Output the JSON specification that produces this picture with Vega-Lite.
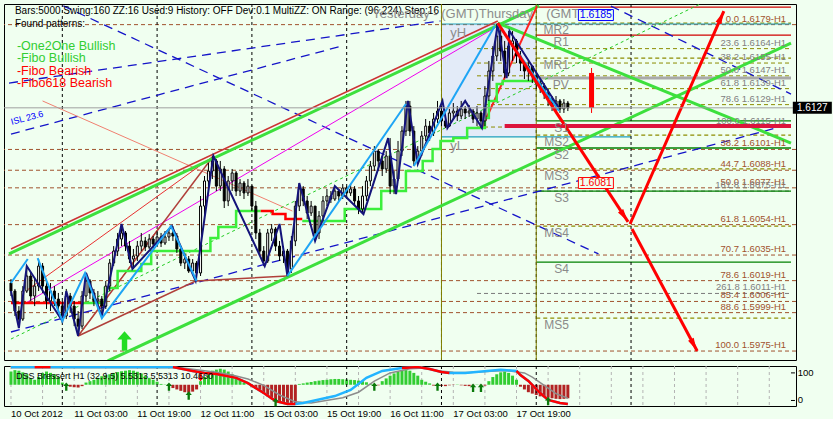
{
"$schema":"https://vega.github.io/schema/vega-lite/v6.json",
"background":"#f0fff0",
"padding":{"left":3,"top":3,"right":0,"bottom":0},
"spacing":4,
"config":{"view":{"stroke":"#000000","strokeWidth":1},"font":"Liberation Sans","axis":{"labelFont":"Liberation Sans","labelColor":"#000000","labelFontSize":9.5}},
"datasets":{
"candles":[
{"i":0,"o":1.60175,"h":1.60200,"l":1.60094,"c":1.60125},
{"i":1,"o":1.60125,"h":1.60138,"l":1.59969,"c":1.60000},
{"i":2,"o":1.60000,"h":1.60031,"l":1.59894,"c":1.59950},
{"i":3,"o":1.59950,"h":1.60156,"l":1.59938,"c":1.60125},
{"i":4,"o":1.60125,"h":1.60263,"l":1.60113,"c":1.60219},
{"i":5,"o":1.60219,"h":1.60238,"l":1.60063,"c":1.60094},
{"i":6,"o":1.60094,"h":1.60200,"l":1.60031,"c":1.60156},
{"i":7,"o":1.60156,"h":1.60325,"l":1.60125,"c":1.60281},
{"i":8,"o":1.60281,"h":1.60300,"l":1.60113,"c":1.60156},
{"i":9,"o":1.60156,"h":1.60188,"l":1.60013,"c":1.60063},
{"i":10,"o":1.60063,"h":1.60175,"l":1.60000,"c":1.60125},
{"i":11,"o":1.60125,"h":1.60156,"l":1.60031,"c":1.60075},
{"i":12,"o":1.60075,"h":1.60113,"l":1.59988,"c":1.60031},
{"i":13,"o":1.60031,"h":1.60063,"l":1.59925,"c":1.59969},
{"i":14,"o":1.59969,"h":1.60138,"l":1.59950,"c":1.60094},
{"i":15,"o":1.60094,"h":1.60113,"l":1.59988,"c":1.60031},
{"i":16,"o":1.60031,"h":1.60063,"l":1.59906,"c":1.59950},
{"i":17,"o":1.59950,"h":1.60000,"l":1.59844,"c":1.59906},
{"i":18,"o":1.59906,"h":1.60125,"l":1.59888,"c":1.60094},
{"i":19,"o":1.60094,"h":1.60238,"l":1.60063,"c":1.60188},
{"i":20,"o":1.60188,"h":1.60200,"l":1.60075,"c":1.60113},
{"i":21,"o":1.60113,"h":1.60138,"l":1.60031,"c":1.60063},
{"i":22,"o":1.60063,"h":1.60125,"l":1.60013,"c":1.60075},
{"i":23,"o":1.60075,"h":1.60094,"l":1.59969,"c":1.60031},
{"i":24,"o":1.60031,"h":1.60188,"l":1.60013,"c":1.60156},
{"i":25,"o":1.60156,"h":1.60325,"l":1.60125,"c":1.60300},
{"i":26,"o":1.60300,"h":1.60406,"l":1.60281,"c":1.60375},
{"i":27,"o":1.60375,"h":1.60488,"l":1.60344,"c":1.60450},
{"i":28,"o":1.60450,"h":1.60544,"l":1.60406,"c":1.60488},
{"i":29,"o":1.60488,"h":1.60500,"l":1.60375,"c":1.60406},
{"i":30,"o":1.60406,"h":1.60438,"l":1.60300,"c":1.60325},
{"i":31,"o":1.60325,"h":1.60388,"l":1.60263,"c":1.60344},
{"i":32,"o":1.60344,"h":1.60438,"l":1.60313,"c":1.60406},
{"i":33,"o":1.60406,"h":1.60488,"l":1.60375,"c":1.60438},
{"i":34,"o":1.60438,"h":1.60463,"l":1.60375,"c":1.60400},
{"i":35,"o":1.60400,"h":1.60481,"l":1.60388,"c":1.60450},
{"i":36,"o":1.60450,"h":1.60469,"l":1.60394,"c":1.60419},
{"i":37,"o":1.60419,"h":1.60500,"l":1.60406,"c":1.60463},
{"i":38,"o":1.60463,"h":1.60488,"l":1.60400,"c":1.60425},
{"i":39,"o":1.60425,"h":1.60500,"l":1.60413,"c":1.60463},
{"i":40,"o":1.60463,"h":1.60519,"l":1.60438,"c":1.60488},
{"i":41,"o":1.60488,"h":1.60531,"l":1.60438,"c":1.60469},
{"i":42,"o":1.60469,"h":1.60488,"l":1.60363,"c":1.60388},
{"i":43,"o":1.60388,"h":1.60406,"l":1.60281,"c":1.60300},
{"i":44,"o":1.60300,"h":1.60363,"l":1.60263,"c":1.60325},
{"i":45,"o":1.60325,"h":1.60344,"l":1.60238,"c":1.60250},
{"i":46,"o":1.60250,"h":1.60325,"l":1.60250,"c":1.60300},
{"i":47,"o":1.60300,"h":1.60313,"l":1.60188,"c":1.60238},
{"i":48,"o":1.60238,"h":1.60719,"l":1.60219,"c":1.60656},
{"i":49,"o":1.60656,"h":1.60844,"l":1.60594,"c":1.60813},
{"i":50,"o":1.60813,"h":1.60925,"l":1.60750,"c":1.60875},
{"i":51,"o":1.60875,"h":1.60969,"l":1.60825,"c":1.60938},
{"i":52,"o":1.60938,"h":1.60950,"l":1.60750,"c":1.60781},
{"i":53,"o":1.60781,"h":1.60938,"l":1.60750,"c":1.60888},
{"i":54,"o":1.60888,"h":1.60906,"l":1.60644,"c":1.60688},
{"i":55,"o":1.60688,"h":1.60844,"l":1.60656,"c":1.60813},
{"i":56,"o":1.60813,"h":1.60888,"l":1.60750,"c":1.60863},
{"i":57,"o":1.60863,"h":1.60875,"l":1.60719,"c":1.60750},
{"i":58,"o":1.60750,"h":1.60825,"l":1.60719,"c":1.60800},
{"i":59,"o":1.60800,"h":1.60813,"l":1.60700,"c":1.60738},
{"i":60,"o":1.60738,"h":1.60825,"l":1.60719,"c":1.60781},
{"i":61,"o":1.60781,"h":1.60781,"l":1.60625,"c":1.60656},
{"i":62,"o":1.60656,"h":1.60688,"l":1.60450,"c":1.60488},
{"i":63,"o":1.60488,"h":1.60513,"l":1.60344,"c":1.60375},
{"i":64,"o":1.60375,"h":1.60406,"l":1.60281,"c":1.60313},
{"i":65,"o":1.60313,"h":1.60513,"l":1.60300,"c":1.60488},
{"i":66,"o":1.60488,"h":1.60544,"l":1.60438,"c":1.60513},
{"i":67,"o":1.60513,"h":1.60525,"l":1.60375,"c":1.60406},
{"i":68,"o":1.60406,"h":1.60438,"l":1.60313,"c":1.60344},
{"i":69,"o":1.60344,"h":1.60406,"l":1.60300,"c":1.60375},
{"i":70,"o":1.60375,"h":1.60388,"l":1.60219,"c":1.60263},
{"i":71,"o":1.60263,"h":1.60469,"l":1.60238,"c":1.60438},
{"i":72,"o":1.60438,"h":1.60688,"l":1.60406,"c":1.60656},
{"i":73,"o":1.60656,"h":1.60800,"l":1.60625,"c":1.60763},
{"i":74,"o":1.60763,"h":1.60781,"l":1.60656,"c":1.60688},
{"i":75,"o":1.60688,"h":1.60719,"l":1.60575,"c":1.60613},
{"i":76,"o":1.60613,"h":1.60688,"l":1.60594,"c":1.60656},
{"i":77,"o":1.60656,"h":1.60656,"l":1.60438,"c":1.60488},
{"i":78,"o":1.60488,"h":1.60625,"l":1.60450,"c":1.60594},
{"i":79,"o":1.60594,"h":1.60719,"l":1.60563,"c":1.60688},
{"i":80,"o":1.60688,"h":1.60763,"l":1.60656,"c":1.60719},
{"i":81,"o":1.60719,"h":1.60750,"l":1.60675,"c":1.60700},
{"i":82,"o":1.60700,"h":1.60781,"l":1.60688,"c":1.60750},
{"i":83,"o":1.60750,"h":1.60763,"l":1.60688,"c":1.60719},
{"i":84,"o":1.60719,"h":1.60794,"l":1.60700,"c":1.60769},
{"i":85,"o":1.60769,"h":1.60781,"l":1.60706,"c":1.60738},
{"i":86,"o":1.60738,"h":1.60794,"l":1.60719,"c":1.60763},
{"i":87,"o":1.60763,"h":1.60781,"l":1.60656,"c":1.60688},
{"i":88,"o":1.60688,"h":1.60719,"l":1.60606,"c":1.60638},
{"i":89,"o":1.60638,"h":1.60781,"l":1.60613,"c":1.60719},
{"i":90,"o":1.60719,"h":1.60844,"l":1.60688,"c":1.60813},
{"i":91,"o":1.60813,"h":1.60938,"l":1.60781,"c":1.60906},
{"i":92,"o":1.60906,"h":1.61031,"l":1.60875,"c":1.61000},
{"i":93,"o":1.61000,"h":1.61013,"l":1.60875,"c":1.60938},
{"i":94,"o":1.60938,"h":1.60969,"l":1.60844,"c":1.60888},
{"i":95,"o":1.60888,"h":1.61000,"l":1.60863,"c":1.60969},
{"i":96,"o":1.60969,"h":1.61081,"l":1.60731,"c":1.60781},
{"i":97,"o":1.60781,"h":1.60875,"l":1.60731,"c":1.60825},
{"i":98,"o":1.60825,"h":1.61063,"l":1.60813,"c":1.61000},
{"i":99,"o":1.61000,"h":1.61156,"l":1.60969,"c":1.61125},
{"i":100,"o":1.61125,"h":1.61313,"l":1.61094,"c":1.61281},
{"i":101,"o":1.61281,"h":1.61313,"l":1.61094,"c":1.61125},
{"i":102,"o":1.61125,"h":1.61156,"l":1.60906,"c":1.60938},
{"i":103,"o":1.60938,"h":1.61031,"l":1.60919,"c":1.61000},
{"i":104,"o":1.61000,"h":1.61125,"l":1.60969,"c":1.61094},
{"i":105,"o":1.61094,"h":1.61200,"l":1.61063,"c":1.61156},
{"i":106,"o":1.61156,"h":1.61188,"l":1.61063,"c":1.61113},
{"i":107,"o":1.61113,"h":1.61238,"l":1.61094,"c":1.61200},
{"i":108,"o":1.61200,"h":1.61313,"l":1.61175,"c":1.61250},
{"i":109,"o":1.61250,"h":1.61281,"l":1.61156,"c":1.61188},
{"i":110,"o":1.61188,"h":1.61200,"l":1.61144,"c":1.61156},
{"i":111,"o":1.61156,"h":1.61263,"l":1.61150,"c":1.61238},
{"i":112,"o":1.61238,"h":1.61300,"l":1.61200,"c":1.61250},
{"i":113,"o":1.61250,"h":1.61281,"l":1.61188,"c":1.61219},
{"i":114,"o":1.61219,"h":1.61313,"l":1.61200,"c":1.61263},
{"i":115,"o":1.61263,"h":1.61281,"l":1.61200,"c":1.61238},
{"i":116,"o":1.61238,"h":1.61288,"l":1.61213,"c":1.61250},
{"i":117,"o":1.61250,"h":1.61263,"l":1.61175,"c":1.61200},
{"i":118,"o":1.61200,"h":1.61281,"l":1.61156,"c":1.61238},
{"i":119,"o":1.61238,"h":1.61250,"l":1.61144,"c":1.61188},
{"i":120,"o":1.61188,"h":1.61406,"l":1.61156,"c":1.61344},
{"i":121,"o":1.61344,"h":1.61563,"l":1.61313,"c":1.61500},
{"i":122,"o":1.61500,"h":1.61656,"l":1.61438,"c":1.61594},
{"i":123,"o":1.61594,"h":1.61794,"l":1.61563,"c":1.61719},
{"i":124,"o":1.61719,"h":1.61763,"l":1.61563,"c":1.61625},
{"i":125,"o":1.61625,"h":1.61688,"l":1.61456,"c":1.61488},
{"i":126,"o":1.61488,"h":1.61750,"l":1.61469,"c":1.61656},
{"i":127,"o":1.61656,"h":1.61750,"l":1.61563,"c":1.61688},
{"i":128,"o":1.61688,"h":1.61700,"l":1.61550,"c":1.61594},
{"i":129,"o":1.61594,"h":1.61625,"l":1.61500,"c":1.61550},
{"i":130,"o":1.61550,"h":1.61563,"l":1.61450,"c":1.61500},
{"i":131,"o":1.61500,"h":1.61563,"l":1.61438,"c":1.61531},
{"i":132,"o":1.61531,"h":1.61531,"l":1.61425,"c":1.61469},
{"i":133,"o":1.61469,"h":1.61488,"l":1.61388,"c":1.61425},
{"i":134,"o":1.61425,"h":1.61450,"l":1.61363,"c":1.61406},
{"i":135,"o":1.61406,"h":1.61425,"l":1.61325,"c":1.61363},
{"i":136,"o":1.61363,"h":1.61388,"l":1.61281,"c":1.61325},
{"i":137,"o":1.61325,"h":1.61344,"l":1.61250,"c":1.61281},
{"i":138,"o":1.61281,"h":1.61344,"l":1.61238,"c":1.61313},
{"i":139,"o":1.61313,"h":1.61325,"l":1.61238,"c":1.61263},
{"i":140,"o":1.61263,"h":1.61325,"l":1.61238,"c":1.61300},
{"i":141,"o":1.61300,"h":1.61313,"l":1.61250,"c":1.61269}
],
"osc":[
{"i":0,"v":105,"b":57},{"i":1,"v":110,"b":57},{"i":2,"v":108,"b":57},{"i":3,"v":102,"b":57},{"i":4,"v":95,"b":57},{"i":5,"v":80,"b":57},{"i":6,"v":75,"b":57},{"i":7,"v":85,"b":57},{"i":8,"v":100,"b":57},{"i":9,"v":105,"b":57},
{"i":10,"v":100,"b":57},{"i":11,"v":95,"b":57},{"i":12,"v":85,"b":57},{"i":13,"v":65,"b":57},{"i":14,"v":60,"b":57},{"i":15,"v":50,"b":57},{"i":16,"v":48,"b":57},{"i":17,"v":47,"b":57},{"i":18,"v":52,"b":57},{"i":19,"v":65,"b":57},
{"i":20,"v":70,"b":57},{"i":21,"v":75,"b":57},{"i":22,"v":82,"b":57},{"i":23,"v":88,"b":57},{"i":24,"v":92,"b":57},{"i":25,"v":95,"b":57},{"i":26,"v":100,"b":57},{"i":27,"v":103,"b":57},{"i":28,"v":106,"b":57},{"i":29,"v":108,"b":57},
{"i":30,"v":110,"b":57},{"i":31,"v":108,"b":57},{"i":32,"v":104,"b":57},{"i":33,"v":98,"b":57},{"i":34,"v":90,"b":57},{"i":35,"v":82,"b":57},{"i":36,"v":75,"b":57},{"i":37,"v":68,"b":57},{"i":38,"v":60,"b":57},{"i":39,"v":58,"b":57},
{"i":40,"v":56,"b":57},{"i":41,"v":45,"b":57},{"i":42,"v":40,"b":57},{"i":43,"v":35,"b":57},{"i":44,"v":30,"b":57},{"i":45,"v":28,"b":57},{"i":46,"v":32,"b":57},{"i":47,"v":40,"b":57},{"i":48,"v":70,"b":57},{"i":49,"v":85,"b":57},
{"i":50,"v":100,"b":57},{"i":51,"v":108,"b":57},{"i":52,"v":112,"b":57},{"i":53,"v":115,"b":57},{"i":54,"v":112,"b":57},{"i":55,"v":105,"b":57},{"i":56,"v":95,"b":57},{"i":57,"v":85,"b":57},{"i":58,"v":75,"b":57},{"i":59,"v":65,"b":57},
{"i":60,"v":58,"b":57},{"i":61,"v":48,"b":57},{"i":62,"v":42,"b":57},{"i":63,"v":35,"b":57},{"i":64,"v":25,"b":57},{"i":65,"v":15,"b":57},{"i":66,"v":5,"b":57},{"i":67,"v":0,"b":57},{"i":68,"v":-5,"b":57},{"i":69,"v":-10,"b":57},
{"i":70,"v":-12,"b":57},{"i":71,"v":-12,"b":57},{"i":72,"v":-10,"b":57},{"i":73,"v":60,"b":57},{"i":74,"v":62,"b":57},{"i":75,"v":65,"b":57},{"i":76,"v":67,"b":57},{"i":77,"v":70,"b":57},{"i":78,"v":72,"b":57},{"i":79,"v":74,"b":57},
{"i":80,"v":75,"b":57},{"i":81,"v":77,"b":57},{"i":82,"v":78,"b":57},{"i":83,"v":78,"b":57},{"i":84,"v":77,"b":57},{"i":85,"v":76,"b":57},{"i":86,"v":75,"b":57},{"i":87,"v":74,"b":57},{"i":88,"v":72,"b":57},{"i":89,"v":70,"b":57},
{"i":90,"v":66,"b":57},{"i":91,"v":60,"b":57},{"i":92,"v":52,"b":57},{"i":93,"v":55,"b":57},{"i":94,"v":70,"b":57},{"i":95,"v":80,"b":57},{"i":96,"v":90,"b":57},{"i":97,"v":98,"b":57},{"i":98,"v":104,"b":57},{"i":99,"v":108,"b":57},
{"i":100,"v":110,"b":57},{"i":101,"v":108,"b":57},{"i":102,"v":100,"b":57},{"i":103,"v":90,"b":57},{"i":104,"v":75,"b":57},{"i":105,"v":68,"b":57},{"i":106,"v":62,"b":57},{"i":107,"v":54,"b":57},{"i":108,"v":55,"b":57},{"i":109,"v":53,"b":57},
{"i":110,"v":52,"b":57},{"i":111,"v":55,"b":57},{"i":112,"v":56,"b":57},{"i":113,"v":58,"b":57},{"i":114,"v":55,"b":57},{"i":115,"v":53,"b":57},{"i":116,"v":52,"b":57},{"i":117,"v":56,"b":57},{"i":118,"v":58,"b":57},{"i":119,"v":55,"b":57},
{"i":120,"v":54,"b":57},{"i":121,"v":70,"b":57},{"i":122,"v":85,"b":57},{"i":123,"v":95,"b":57},{"i":124,"v":102,"b":57},{"i":125,"v":105,"b":57},{"i":126,"v":100,"b":57},{"i":127,"v":90,"b":57},{"i":128,"v":75,"b":57},{"i":129,"v":50,"b":57},
{"i":130,"v":40,"b":57},{"i":131,"v":30,"b":57},{"i":132,"v":25,"b":57},{"i":133,"v":20,"b":57},{"i":134,"v":15,"b":57},{"i":135,"v":12,"b":57},{"i":136,"v":10,"b":57},{"i":137,"v":8,"b":57},{"i":138,"v":6,"b":57},{"i":139,"v":5,"b":57},
{"i":140,"v":6,"b":57},{"i":141,"v":8,"b":57}
],
"oscl":[
{"line":"gray","i":0,"v":119},{"line":"gray","i":43,"v":119},{"line":"gray","i":48,"v":110},{"line":"gray","i":52,"v":102},{"line":"gray","i":56,"v":92},{"line":"gray","i":60,"v":78},{"line":"gray","i":64,"v":55},{"line":"gray","i":68,"v":20},{"line":"gray","i":72,"v":-5},{"line":"gray","i":76,"v":-9},{"line":"gray","i":84,"v":10},{"line":"gray","i":88,"v":30},{"line":"gray","i":92,"v":70},{"line":"gray","i":96,"v":100},{"line":"gray","i":101,"v":115},{"line":"gray","i":105,"v":118},{"line":"gray","i":108,"v":108},{"line":"gray","i":112,"v":102},{"line":"gray","i":116,"v":101},{"line":"gray","i":125,"v":109},{"line":"gray","i":130,"v":100},{"line":"gray","i":132,"v":85},{"line":"gray","i":135,"v":55},{"line":"gray","i":138,"v":25},{"line":"gray","i":141,"v":8},
{"line":"main","i":0,"v":121},{"line":"main","i":41,"v":121},{"line":"main","i":46,"v":107},{"line":"main","i":49,"v":100},{"line":"main","i":52,"v":96},{"line":"main","i":57,"v":82},{"line":"main","i":60,"v":63},{"line":"main","i":64,"v":27},{"line":"main","i":67,"v":-2},{"line":"main","i":70,"v":-13},{"line":"main","i":72,"v":-13},{"line":"main","i":74,"v":-9},{"line":"main","i":82,"v":16},{"line":"main","i":86,"v":38},{"line":"main","i":90,"v":82},{"line":"main","i":94,"v":107},{"line":"main","i":99,"v":118},{"line":"main","i":103,"v":121},{"line":"main","i":106,"v":114},{"line":"main","i":109,"v":103},{"line":"main","i":111,"v":100},{"line":"main","i":115,"v":100},{"line":"main","i":124,"v":111},{"line":"main","i":128,"v":107},{"line":"main","i":129,"v":92},{"line":"main","i":131,"v":71},{"line":"main","i":134,"v":27},{"line":"main","i":136,"v":2},{"line":"main","i":139,"v":-9},{"line":"main","i":141,"v":-13},
{"line":"r0","i":6,"v":121},{"line":"r0","i":10,"v":121},
{"line":"r1","i":41,"v":121},{"line":"r1","i":46,"v":107},{"line":"r1","i":49,"v":100},{"line":"r1","i":52,"v":96},{"line":"r1","i":57,"v":82},{"line":"r1","i":60,"v":63},{"line":"r1","i":64,"v":27},{"line":"r1","i":67,"v":-2},{"line":"r1","i":70,"v":-13},{"line":"r1","i":72,"v":-13},
{"line":"r2","i":99,"v":118},{"line":"r2","i":103,"v":121},{"line":"r2","i":106,"v":114},{"line":"r2","i":109,"v":103},{"line":"r2","i":111,"v":100},
{"line":"r3","i":128,"v":107},{"line":"r3","i":129,"v":92},{"line":"r3","i":131,"v":71},{"line":"r3","i":134,"v":27},{"line":"r3","i":136,"v":2},{"line":"r3","i":139,"v":-9},{"line":"r3","i":141,"v":-13}
],
"osca":[
{"i":14,"v":50,"dir":"up"},{"i":40,"v":50,"dir":"up"},{"i":45,"v":18,"dir":"up"},{"i":48,"v":85,"dir":"dn"},{"i":67,"v":-6,"dir":"up"},{"i":92,"v":50,"dir":"up"},{"i":108,"v":50,"dir":"up"},{"i":117,"v":46,"dir":"up"},{"i":119,"v":46,"dir":"up"},{"i":136,"v":-2,"dir":"up"}
],
"osct":[{"t":"DSS Bressert H1 (32,9,5) 5.5313 5.5313 10.4660","i":1.25,"v":90}],
"tgrid":[{"i":0},{"i":8},{"i":16},{"i":24},{"i":32},{"i":40},{"i":48},{"i":56},{"i":64},{"i":72},{"i":80},{"i":88},{"i":96},{"i":104},{"i":112},{"i":120},{"i":128},{"i":136},{"i":144},{"i":152},{"i":160},{"i":168},{"i":176},{"i":184},{"i":192}],
"xlab":[{"i":0,"t":"10 Oct 2012"},{"i":16,"t":"11 Oct 03:00"},{"i":32,"t":"11 Oct 19:00"},{"i":48,"t":"12 Oct 11:00"},{"i":64,"t":"15 Oct 03:00"},{"i":80,"t":"15 Oct 19:00"},{"i":96,"t":"16 Oct 11:00"},{"i":112,"t":"17 Oct 03:00"},{"i":128,"t":"17 Oct 19:00"}],
"ylab":[{"v":0,"t":"0"},{"v":100,"t":"100"}],
"seps":[{"i":13},{"i":37},{"i":61},{"i":85},{"i":109},{"i":133},{"i":157}],
"ybox":[{"from":109,"to":133,"hi":1.61794,"lo":1.61088}],
"lvl":[{"from":125,"p":1.61156}],
"sig":[{"i":147,"hi":1.61519,"lo":1.61238,"bt":1.61488,"bb":1.61269}],
"bull":[{"i":28.75,"p":1.59813}],
"piv":[
{"t":"","p":1.619,"kind":"R"},{"t":"MR2","p":1.618,"kind":"M"},{"t":"R1","p":1.61725,"kind":"R"},{"t":"MR1","p":1.61581,"kind":"M"},{"t":"PV","p":1.61456,"kind":"P"},{"t":"S1","p":1.61188,"kind":"S"},{"t":"MS2","p":1.611,"kind":"M"},{"t":"S2","p":1.61019,"kind":"S"},{"t":"MS3","p":1.60888,"kind":"M"},{"t":"S3","p":1.6075,"kind":"S"},{"t":"MS4","p":1.60531,"kind":"M"},{"t":"S4","p":1.60306,"kind":"S"},{"t":"MS5","p":1.59956,"kind":"M"}
],
"fib":[
{"t":"0.0 1.6179-H1","p":1.6179,"set":"full"},
{"t":"23.6 1.6164-H1","p":1.6164,"set":"hi"},
{"t":"38.2 1.6155-H1","p":1.6155,"set":"hi"},
{"t":"50.0 1.6147-H1","p":1.6147,"set":"hi"},
{"t":"61.8 1.6139-H1","p":1.6139,"set":"hi"},
{"t":"78.6 1.6129-H1","p":1.6129,"set":"hi"},
{"t":"100.0 1.6115-H1","p":1.6115,"set":"hi"},
{"t":"38.2 1.6101-H1","p":1.6101,"set":"full"},
{"t":"44.7 1.6088-H1","p":1.6088,"set":"full"},
{"t":"50.0 1.6077-H1","p":1.6077,"set":"full"},
{"t":"161.8 1.6075-H1","p":1.6075,"set":"ext"},
{"t":"61.8 1.6054-H1","p":1.6054,"set":"full"},
{"t":"70.7 1.6035-H1","p":1.6035,"set":"full"},
{"t":"78.6 1.6019-H1","p":1.6019,"set":"full"},
{"t":"261.8 1.6011-H1","p":1.6011,"set":"ext"},
{"t":"85.4 1.6006-H1","p":1.6006,"set":"full"},
{"t":"88.6 1.5999-H1","p":1.5999,"set":"full"},
{"t":"100.0 1.5975-H1","p":1.5975,"set":"full"}
],
"lines":[
{"line":"ch1","kind":"channel","i":-0.5,"p":1.60357},{"line":"ch1","kind":"channel","i":133.75,"p":1.61907},
{"line":"ch2","kind":"channel","i":24.5,"p":1.59688},{"line":"ch2","kind":"channel","i":197.5,"p":1.61675},
{"line":"ch3","kind":"channel","i":123.25,"p":1.618},{"line":"ch3","kind":"channel","i":197.5,"p":1.6105},
{"line":"chr","kind":"channelRed","i":0,"p":1.60388},{"line":"chr","kind":"channelRed","i":123.25,"p":1.61813},
{"line":"mag","kind":"magenta","i":3.75,"p":1.6005},{"line":"mag","kind":"magenta","i":123.25,"p":1.61781},
{"line":"pt1","kind":"pattern","i":3.75,"p":1.60125},{"line":"pt1","kind":"pattern","i":51.25,"p":1.60969},
{"line":"pt3","kind":"pattern","i":17,"p":1.59844},{"line":"pt3","kind":"pattern","i":38.75,"p":1.60563},
{"line":"pt2","kind":"patternBrown","i":17,"p":1.59844},{"line":"pt2","kind":"patternBrown","i":51.25,"p":1.60969},
{"line":"brn","kind":"patternBrown","i":17,"p":1.59844},{"line":"brn","kind":"patternBrown","i":46.75,"p":1.60188},{"line":"brn","kind":"patternBrown","i":70,"p":1.60219},
{"line":"rl1","kind":"redline","i":119.25,"p":1.61144},{"line":"rl1","kind":"redline","i":133.2,"p":1.61906},
{"line":"fan1","kind":"fan","i":13.25,"p":1.61907},{"line":"fan1","kind":"fan","i":148.75,"p":1.60357},
{"line":"fan2","kind":"fan","i":0,"p":1.59869},{"line":"fan2","kind":"fan","i":197.5,"p":1.61169},
{"line":"fan3","kind":"fan","i":-0.5,"p":1.61425},{"line":"fan3","kind":"fan","i":108.75,"p":1.61813},
{"line":"fan4","kind":"fan","i":0,"p":1.61106},{"line":"fan4","kind":"fan","i":83.75,"p":1.61656},
{"line":"fan5","kind":"fan","i":151.9,"p":1.61906},{"line":"fan5","kind":"fan","i":197.5,"p":1.61356},
{"line":"sal","kind":"salmon","i":8,"p":1.61313},{"line":"sal","kind":"salmon","i":71.25,"p":1.60625},
{"line":"gd1","kind":"trendDash","i":0,"p":1.59825},{"line":"gd1","kind":"trendDash","i":175,"p":1.61925},
{"line":"zz","kind":"zigzag","i":0,"p":1.60125},{"line":"zz","kind":"zigzag","i":2,"p":1.59894},{"line":"zz","kind":"zigzag","i":4,"p":1.60281},{"line":"zz","kind":"zigzag","i":13,"p":1.59938},{"line":"zz","kind":"zigzag","i":14,"p":1.60125},{"line":"zz","kind":"zigzag","i":17,"p":1.59844},{"line":"zz","kind":"zigzag","i":19,"p":1.60238},{"line":"zz","kind":"zigzag","i":23,"p":1.59969},{"line":"zz","kind":"zigzag","i":28,"p":1.60544},{"line":"zz","kind":"zigzag","i":30.75,"p":1.60263},{"line":"zz","kind":"zigzag","i":40.75,"p":1.60531},{"line":"zz","kind":"zigzag","i":46.75,"p":1.60188},{"line":"zz","kind":"zigzag","i":51.25,"p":1.60969},{"line":"zz","kind":"zigzag","i":64.25,"p":1.60281},{"line":"zz","kind":"zigzag","i":68,"p":1.60544},{"line":"zz","kind":"zigzag","i":70,"p":1.60219},{"line":"zz","kind":"zigzag","i":73,"p":1.608},{"line":"zz","kind":"zigzag","i":77,"p":1.60438},{"line":"zz","kind":"zigzag","i":82,"p":1.60781},{"line":"zz","kind":"zigzag","i":89.25,"p":1.60606},{"line":"zz","kind":"zigzag","i":95.5,"p":1.61081},{"line":"zz","kind":"zigzag","i":97.5,"p":1.60731},{"line":"zz","kind":"zigzag","i":100.5,"p":1.61313},{"line":"zz","kind":"zigzag","i":103,"p":1.60919},{"line":"zz","kind":"zigzag","i":109.25,"p":1.61313},{"line":"zz","kind":"zigzag","i":110.5,"p":1.61144},{"line":"zz","kind":"zigzag","i":115,"p":1.61313},{"line":"zz","kind":"zigzag","i":119.25,"p":1.61144},{"line":"zz","kind":"zigzag","i":123.25,"p":1.61794},{"line":"zz","kind":"zigzag","i":125.5,"p":1.61456},{"line":"zz","kind":"zigzag","i":126.25,"p":1.6175},{"line":"zz","kind":"zigzag","i":138.75,"p":1.61269},
{"line":"cy0","kind":"swing","i":0,"p":1.60175},{"line":"cy0","kind":"swing","i":4.25,"p":1.60325},
{"line":"cy1","kind":"swing","i":6.75,"p":1.60331},{"line":"cy1","kind":"swing","i":13,"p":1.59938},{"line":"cy1","kind":"swing","i":18.75,"p":1.60238},{"line":"cy1","kind":"swing","i":23,"p":1.59956},{"line":"cy1","kind":"swing","i":40.5,"p":1.60531},{"line":"cy1","kind":"swing","i":47,"p":1.60188},
{"line":"cy2","kind":"swing","i":70,"p":1.60219},{"line":"cy2","kind":"swing","i":100,"p":1.61294},
{"line":"cy3","kind":"swing","i":102,"p":1.60906},{"line":"cy3","kind":"swing","i":122.5,"p":1.61781},
{"line":"cy4","kind":"swing","i":123.25,"p":1.61794},{"line":"cy4","kind":"swing","i":138.75,"p":1.6125},
{"line":"ar1","kind":"projection","i":123.25,"p":1.618},{"line":"ar1","kind":"projection","i":156.25,"p":1.60557},
{"line":"ar2","kind":"projection","i":156.75,"p":1.60544},{"line":"ar2","kind":"projection","i":180.5,"p":1.61875},
{"line":"ar3","kind":"projection","i":157.25,"p":1.60513},{"line":"ar3","kind":"projection","i":173.75,"p":1.5975}
],
"heads":[{"id":"h1","i":155.25,"p":1.60594},{"id":"h2","i":179.8,"p":1.61836},{"id":"h3","i":172.9,"p":1.59789}],
"steps":[
{"seg":"s0","kind":"bear","i":0,"p":1.6005},{"seg":"s0","kind":"bear","i":18.25,"p":1.6005},
{"seg":"s1","kind":"bull","i":18.25,"p":1.6005},{"seg":"s1","kind":"bull","i":23.75,"p":1.60144},{"seg":"s1","kind":"bull","i":27,"p":1.6025},{"seg":"s1","kind":"bull","i":33,"p":1.60294},{"seg":"s1","kind":"bull","i":35.5,"p":1.60375},{"seg":"s1","kind":"bull","i":50.5,"p":1.60456},{"seg":"s1","kind":"bull","i":52.5,"p":1.60525},{"seg":"s1","kind":"bull","i":57,"p":1.60625},{"seg":"s1","kind":"bull","i":63.25,"p":1.60625},
{"seg":"s2","kind":"bear","i":63.25,"p":1.60625},{"seg":"s2","kind":"bear","i":66.25,"p":1.60606},{"seg":"s2","kind":"bear","i":69.5,"p":1.60575},{"seg":"s2","kind":"bear","i":73.75,"p":1.60575},
{"seg":"s3","kind":"bull","i":73.75,"p":1.60563},{"seg":"s3","kind":"bull","i":84.5,"p":1.60638},{"seg":"s3","kind":"bull","i":93.75,"p":1.6075},{"seg":"s3","kind":"bull","i":100,"p":1.60875},{"seg":"s3","kind":"bull","i":104.25,"p":1.60938},{"seg":"s3","kind":"bull","i":106.75,"p":1.61013},{"seg":"s3","kind":"bull","i":108.75,"p":1.61063},{"seg":"s3","kind":"bull","i":112,"p":1.61081},{"seg":"s3","kind":"bull","i":115.5,"p":1.61144},{"seg":"s3","kind":"bull","i":120,"p":1.61206},{"seg":"s3","kind":"bull","i":121,"p":1.61313},{"seg":"s3","kind":"bull","i":123,"p":1.61419},{"seg":"s3","kind":"bull","i":124.5,"p":1.61438},{"seg":"s3","kind":"bull","i":133,"p":1.61438}
],
"notes":[
{"t":"Bars:5000 Swing:160 ZZ:16 Used:9 History: OFF Dev:0.1 MultiZZ: ON Range: (96,224) Step:16","i":1,"p":1.61875,"kind":"hdr"},
{"t":"Found patterns:","i":1,"p":1.61794,"kind":"hdr"},
{"t":"-One2One Bullish","i":1.5,"p":1.61656,"kind":"bull"},
{"t":"-Fibo Bullish","i":1.5,"p":1.61581,"kind":"bull"},
{"t":"-Fibo Bearish","i":1.5,"p":1.615,"kind":"bear"},
{"t":"-Fibo618 Bearish","i":1.5,"p":1.61425,"kind":"bear"},
{"t":"Yesterday - (GMT)Thursday","i":91.5,"p":1.61856,"kind":"gray"},
{"t":"(GMT)","i":135.5,"p":1.61856,"kind":"gray"},
{"t":"yH","i":111.25,"p":1.61738,"kind":"gray"},
{"t":"yL","i":111.25,"p":1.61031,"kind":"gray"},
{"t":"ISL 23.6","i":0,"p":1.61181,"kind":"blue"}
],
"tags":[{"t":"1.6185","p":1.6185,"kind":"blue"},{"t":"1.6081","p":1.6080,"kind":"red"}],
"bid":[{"t":"1.6127","p":1.6127}]
},
"vconcat":[
{"width":792,"height":356,
"resolve":{"scale":{"color":"independent","strokeDash":"independent"}},
"layer":[
{"data":{"name":"ybox"},"mark":{"type":"rect","color":"#e3ebf8"},
 "encoding":{
  "x":{"field":"from","type":"quantitative","scale":{"domain":[-0.5,197.5],"nice":false,"zero":false},
   "axis":{"values":[0,8,16,24,32,40,48,56,64,72,80,88,96,104,112,120,128,136,144,152,160,168,176,184,192],"labels":false,"ticks":false,"domain":false,"grid":true,"gridColor":"#b4b4b4","gridDash":[3,3],"title":null}},
  "x2":{"field":"to"},
  "y":{"field":"hi","type":"quantitative","scale":{"domain":[1.59694,1.61919],"nice":false,"zero":false},
   "axis":{"orient":"right","values":[1.5975,1.6,1.6025,1.605,1.6075,1.6095,1.612,1.6145,1.617],"format":".4f","title":null,"grid":true,"gridColor":"#b4b4b4","gridDash":[3,3],"tickSize":4,"tickColor":"#000000","domainColor":"#000000","labelPadding":2,"labelFontSize":9.5}},
  "y2":{"field":"lo"}}},
{"data":{"name":"fib"},"transform":[{"filter":"datum.set == 'full'"}],"mark":{"type":"rule","color":"#a0522d","strokeDash":[4,3],"strokeWidth":1},
 "encoding":{"y":{"field":"p","type":"quantitative","axis":null}}},
{"data":{"name":"fib"},"transform":[{"filter":"datum.set != 'full'"}],"mark":{"type":"rule","strokeDash":[4,3],"strokeWidth":1},
 "encoding":{"x":{"datum":118,"type":"quantitative","axis":null},"x2":{"datum":197.5},"y":{"field":"p","type":"quantitative","axis":null},
  "color":{"field":"set","type":"nominal","scale":{"domain":["hi","ext"],"range":["#8c8c00","#7a7a7a"]},"legend":null}}},
{"data":{"name":"piv"},"transform":[{"filter":"datum.kind != 'P'"}],"mark":{"type":"rule","strokeWidth":1.3},
 "encoding":{"x":{"datum":133,"type":"quantitative","axis":null},"x2":{"datum":197.5},"y":{"field":"p","type":"quantitative","axis":null},
  "color":{"field":"kind","type":"nominal","scale":{"domain":["R","M","S"],"range":["#d00000","#8c8c00","#008000"]},"legend":null},
  "strokeDash":{"field":"kind","type":"nominal","scale":{"domain":["R","M","S"],"range":[[1,0],[4,3],[1,0]]},"legend":null}}},
{"data":{"name":"piv"},"transform":[{"filter":"datum.kind == 'P'"}],"mark":{"type":"rule","strokeWidth":3,"color":"#a9a9a9"},
 "encoding":{"x":{"datum":133,"type":"quantitative","axis":null},"x2":{"datum":197.5},"y":{"field":"p","type":"quantitative","axis":null}}},
{"data":{"name":"ybox"},"mark":{"type":"rule","color":"#1ea0be","strokeWidth":1.2},
 "encoding":{"x":{"field":"from","type":"quantitative","axis":null},"x2":{"datum":197.5},"y":{"field":"hi","type":"quantitative","axis":null}}},
{"data":{"name":"ybox"},"mark":{"type":"rule","color":"#1ea0be","strokeWidth":1.2},
 "encoding":{"x":{"field":"from","type":"quantitative","axis":null},"x2":{"datum":157},"y":{"field":"lo","type":"quantitative","axis":null}}},
{"data":{"name":"seps"},"mark":{"type":"rule","color":"#000000","strokeDash":[3,3],"strokeWidth":1},
 "encoding":{"x":{"field":"i","type":"quantitative","axis":null}}},
{"data":{"name":"ybox"},"mark":{"type":"rule","color":"#808000","strokeWidth":1},
 "encoding":{"x":{"field":"from","type":"quantitative","axis":null}}},
{"data":{"name":"ybox"},"mark":{"type":"rule","color":"#808000","strokeWidth":1},
 "encoding":{"x":{"field":"to","type":"quantitative","axis":null}}},
{"data":{"name":"lines"},"transform":[{"filter":"datum.kind == 'fan'"}],"mark":{"type":"line","color":"#1414c8","strokeDash":[9,6],"strokeWidth":1.3,"clip":true},
 "encoding":{"x":{"field":"i","type":"quantitative","axis":null},"y":{"field":"p","type":"quantitative","axis":null},"detail":{"field":"line"}}},
{"data":{"name":"lines"},"transform":[{"filter":"datum.kind == 'salmon'"}],"mark":{"type":"line","color":"#f08070","strokeWidth":1,"clip":true},
 "encoding":{"x":{"field":"i","type":"quantitative","axis":null},"y":{"field":"p","type":"quantitative","axis":null},"detail":{"field":"line"}}},
{"data":{"name":"lines"},"transform":[{"filter":"datum.kind == 'trendDash'"}],"mark":{"type":"line","color":"#22cc22","strokeDash":[3,3],"strokeWidth":1,"clip":true},
 "encoding":{"x":{"field":"i","type":"quantitative","axis":null},"y":{"field":"p","type":"quantitative","axis":null},"detail":{"field":"line"}}},
{"data":{"name":"lines"},"transform":[{"filter":"datum.kind == 'magenta'"}],"mark":{"type":"line","color":"#ee00ee","strokeWidth":1,"clip":true},
 "encoding":{"x":{"field":"i","type":"quantitative","axis":null},"y":{"field":"p","type":"quantitative","axis":null},"detail":{"field":"line"}}},
{"data":{"name":"lines"},"transform":[{"filter":"datum.kind == 'pattern'"}],"mark":{"type":"line","color":"#e83030","strokeWidth":1,"clip":true},
 "encoding":{"x":{"field":"i","type":"quantitative","axis":null},"y":{"field":"p","type":"quantitative","axis":null},"detail":{"field":"line"}}},
{"data":{"name":"lines"},"transform":[{"filter":"datum.kind == 'patternBrown'"}],"mark":{"type":"line","color":"#b0403a","strokeWidth":1.5,"clip":true},
 "encoding":{"x":{"field":"i","type":"quantitative","axis":null},"y":{"field":"p","type":"quantitative","axis":null},"detail":{"field":"line"}}},
{"data":{"name":"lines"},"transform":[{"filter":"datum.kind == 'channelRed'"}],"mark":{"type":"line","color":"#cc3333","strokeWidth":1.5,"clip":true},
 "encoding":{"x":{"field":"i","type":"quantitative","axis":null},"y":{"field":"p","type":"quantitative","axis":null},"detail":{"field":"line"}}},
{"data":{"name":"lines"},"transform":[{"filter":"datum.kind == 'channel'"}],"mark":{"type":"line","color":"#3de03d","strokeWidth":3,"clip":true},
 "encoding":{"x":{"field":"i","type":"quantitative","axis":null},"y":{"field":"p","type":"quantitative","axis":null},"detail":{"field":"line"}}},
{"data":{"name":"lines"},"transform":[{"filter":"datum.kind == 'redline'"}],"mark":{"type":"line","color":"#ff2020","strokeWidth":2,"clip":true},
 "encoding":{"x":{"field":"i","type":"quantitative","axis":null},"y":{"field":"p","type":"quantitative","axis":null},"detail":{"field":"line"}}},
{"data":{"name":"lvl"},"mark":{"type":"rule","color":"#dc143c","strokeWidth":4},
 "encoding":{"x":{"field":"from","type":"quantitative","axis":null},"x2":{"datum":197.5},"y":{"field":"p","type":"quantitative","axis":null}}},
{"data":{"name":"steps"},"mark":{"type":"line","interpolate":"step-after","strokeWidth":2.5},
 "encoding":{"x":{"field":"i","type":"quantitative","axis":null},"y":{"field":"p","type":"quantitative","axis":null},"detail":{"field":"seg"},
  "color":{"field":"kind","type":"nominal","scale":{"domain":["bull","bear"],"range":["#3cef3c","#ff0000"]},"legend":null}}},
{"data":{"name":"candles"},"mark":{"type":"rule","color":"#000000","strokeWidth":1},
 "encoding":{"x":{"field":"i","type":"quantitative","axis":null},"y":{"field":"l","type":"quantitative","axis":null},"y2":{"field":"h"}}},
{"data":{"name":"candles"},"mark":{"type":"bar","width":2,"stroke":"#000000","strokeWidth":1},
 "encoding":{"x":{"field":"i","type":"quantitative","axis":null},"y":{"field":"o","type":"quantitative","axis":null},"y2":{"field":"c"},
  "fill":{"condition":{"test":"datum.c < datum.o","value":"#000000"},"value":"#ffffff"}}},
{"data":{"name":"lines"},"transform":[{"filter":"datum.kind == 'zigzag'"}],"mark":{"type":"line","color":"#14147a","strokeWidth":2,"clip":true},
 "encoding":{"x":{"field":"i","type":"quantitative","axis":null},"y":{"field":"p","type":"quantitative","axis":null},"detail":{"field":"line"}}},
{"data":{"name":"lines"},"transform":[{"filter":"datum.kind == 'swing'"}],"mark":{"type":"line","color":"#1ea5f5","strokeWidth":2,"clip":true},
 "encoding":{"x":{"field":"i","type":"quantitative","axis":null},"y":{"field":"p","type":"quantitative","axis":null},"detail":{"field":"line"}}},
{"data":{"name":"lines"},"transform":[{"filter":"datum.kind == 'projection'"}],"mark":{"type":"line","color":"#ff0000","strokeWidth":3,"clip":true},
 "encoding":{"x":{"field":"i","type":"quantitative","axis":null},"y":{"field":"p","type":"quantitative","axis":null},"detail":{"field":"line"}}},
{"data":{"name":"heads"},"transform":[{"filter":"datum.id == 'h1'"}],"mark":{"type":"point","shape":"M0,-1L0.5,1L-0.5,1Z","size":160,"filled":true,"color":"#ff0000","opacity":1,"angle":146},
 "encoding":{"x":{"field":"i","type":"quantitative","axis":null},"y":{"field":"p","type":"quantitative","axis":null}}},
{"data":{"name":"heads"},"transform":[{"filter":"datum.id == 'h2'"}],"mark":{"type":"point","shape":"M0,-1L0.5,1L-0.5,1Z","size":160,"filled":true,"color":"#ff0000","opacity":1,"angle":24},
 "encoding":{"x":{"field":"i","type":"quantitative","axis":null},"y":{"field":"p","type":"quantitative","axis":null}}},
{"data":{"name":"heads"},"transform":[{"filter":"datum.id == 'h3'"}],"mark":{"type":"point","shape":"M0,-1L0.5,1L-0.5,1Z","size":160,"filled":true,"color":"#ff0000","opacity":1,"angle":152},
 "encoding":{"x":{"field":"i","type":"quantitative","axis":null},"y":{"field":"p","type":"quantitative","axis":null}}},
{"data":{"name":"bull"},"mark":{"type":"point","shape":"M0,-1L0.75,-0.15L0.28,-0.15L0.28,1L-0.28,1L-0.28,-0.15L-0.75,-0.15Z","size":380,"filled":true,"color":"#22dd22","opacity":1},
 "encoding":{"x":{"field":"i","type":"quantitative","axis":null},"y":{"field":"p","type":"quantitative","axis":null}}},
{"data":{"name":"sig"},"mark":{"type":"rule","color":"#ff0000","strokeWidth":1},
 "encoding":{"x":{"field":"i","type":"quantitative","axis":null},"y":{"field":"lo","type":"quantitative","axis":null},"y2":{"field":"hi"}}},
{"data":{"name":"sig"},"mark":{"type":"rule","color":"#ff0000","strokeWidth":5},
 "encoding":{"x":{"field":"i","type":"quantitative","axis":null},"y":{"field":"bb","type":"quantitative","axis":null},"y2":{"field":"bt"}}},
{"data":{"name":"fib"},"mark":{"type":"text","align":"right","baseline":"bottom","dy":-1,"fontSize":9.5},
 "encoding":{"x":{"datum":196.25,"type":"quantitative","axis":null},"y":{"field":"p","type":"quantitative","axis":null},"text":{"field":"t"},
  "color":{"field":"set","type":"nominal","scale":{"domain":["full","hi","ext"],"range":["#a0522d","#808080","#808080"]},"legend":null}}},
{"data":{"name":"piv"},"transform":[{"filter":"datum.t != ''"}],"mark":{"type":"text","align":"right","baseline":"middle","dy":7,"fontSize":12,"color":"#8a8a8a"},
 "encoding":{"x":{"datum":141.25,"type":"quantitative","axis":null},"y":{"field":"p","type":"quantitative","axis":null},"text":{"field":"t"}}},
{"data":{"name":"notes"},"transform":[{"filter":"datum.kind == 'hdr'"}],"mark":{"type":"text","align":"left","baseline":"middle","fontSize":10,"color":"#000000"},
 "encoding":{"x":{"field":"i","type":"quantitative","axis":null},"y":{"field":"p","type":"quantitative","axis":null},"text":{"field":"t"}}},
{"data":{"name":"notes"},"transform":[{"filter":"datum.kind == 'bull'"}],"mark":{"type":"text","align":"left","baseline":"middle","fontSize":12.5,"color":"#32cd32"},
 "encoding":{"x":{"field":"i","type":"quantitative","axis":null},"y":{"field":"p","type":"quantitative","axis":null},"text":{"field":"t"}}},
{"data":{"name":"notes"},"transform":[{"filter":"datum.kind == 'bear'"}],"mark":{"type":"text","align":"left","baseline":"middle","fontSize":12.5,"color":"#ff0000"},
 "encoding":{"x":{"field":"i","type":"quantitative","axis":null},"y":{"field":"p","type":"quantitative","axis":null},"text":{"field":"t"}}},
{"data":{"name":"notes"},"transform":[{"filter":"datum.kind == 'gray'"}],"mark":{"type":"text","align":"left","baseline":"middle","fontSize":13,"color":"#8c8c8c"},
 "encoding":{"x":{"field":"i","type":"quantitative","axis":null},"y":{"field":"p","type":"quantitative","axis":null},"text":{"field":"t"}}},
{"data":{"name":"notes"},"transform":[{"filter":"datum.kind == 'blue'"}],"mark":{"type":"text","align":"left","baseline":"middle","fontSize":9,"color":"#0000ff","angle":-15},
 "encoding":{"x":{"field":"i","type":"quantitative","axis":null},"y":{"field":"p","type":"quantitative","axis":null},"text":{"field":"t"}}},
{"data":{"name":"tags"},"mark":{"type":"rect","width":35,"height":11,"fill":"#f0fff0","strokeWidth":1},
 "encoding":{"x":{"datum":148.1,"type":"quantitative","axis":null},"y":{"field":"p","type":"quantitative","axis":null},
  "stroke":{"field":"kind","type":"nominal","scale":{"domain":["blue","red"],"range":["#0000ff","#ff0000"]},"legend":null}}},
{"data":{"name":"tags"},"mark":{"type":"text","align":"center","baseline":"middle","fontSize":10.5},
 "encoding":{"x":{"datum":148.1,"type":"quantitative","axis":null},"y":{"field":"p","type":"quantitative","axis":null},"text":{"field":"t"},
  "color":{"field":"kind","type":"nominal","scale":{"domain":["blue","red"],"range":["#0000ff","#ff0000"]},"legend":null}}},
{"data":{"name":"bid"},"mark":{"type":"rule","color":"#a0a0a0","strokeWidth":1},
 "encoding":{"y":{"field":"p","type":"quantitative","axis":null}}},
{"data":{"name":"bid"},"mark":{"type":"rect","width":39,"height":12,"fill":"#000000"},
 "encoding":{"x":{"datum":202.9,"type":"quantitative","axis":null},"y":{"field":"p","type":"quantitative","axis":null}}},
{"data":{"name":"bid"},"mark":{"type":"text","align":"center","baseline":"middle","fontSize":10,"color":"#ffffff"},
 "encoding":{"x":{"datum":202.9,"type":"quantitative","axis":null},"y":{"field":"p","type":"quantitative","axis":null},"text":{"field":"t"}}}
]},
{"width":792,"height":40,
"layer":[
{"data":{"name":"tgrid"},"mark":{"type":"rule","color":"#b4b4b4","strokeDash":[3,3],"strokeWidth":1},
 "encoding":{"x":{"field":"i","type":"quantitative","scale":{"domain":[-0.5,197.5],"nice":false,"zero":false},"axis":null}}},
{"data":{"name":"osc"},"mark":{"type":"bar","width":3},
 "encoding":{
  "x":{"field":"i","type":"quantitative","axis":null},
  "y":{"field":"v","type":"quantitative","scale":{"domain":[-20,125],"nice":false,"zero":false},"axis":null},
  "y2":{"field":"b"},
  "color":{"condition":{"test":"datum.v >= 57","value":"#32cd32"},"value":"#b22222"}}},
{"data":{"name":"seps"},"mark":{"type":"rule","color":"#000000","strokeDash":[3,3],"strokeWidth":1},
 "encoding":{"x":{"field":"i","type":"quantitative","axis":null}}},
{"data":{"name":"oscl"},"transform":[{"filter":"datum.line == 'gray'"}],"mark":{"type":"line","color":"#8c8c8c","strokeWidth":1.5,"clip":true},
 "encoding":{"x":{"field":"i","type":"quantitative","axis":null},"y":{"field":"v","type":"quantitative","axis":null}}},
{"data":{"name":"oscl"},"transform":[{"filter":"datum.line == 'main'"}],"mark":{"type":"line","color":"#22b4ff","strokeWidth":2.5,"clip":true},
 "encoding":{"x":{"field":"i","type":"quantitative","axis":null},"y":{"field":"v","type":"quantitative","axis":null}}},
{"data":{"name":"oscl"},"transform":[{"filter":"datum.line != 'main' && datum.line != 'gray'"}],"mark":{"type":"line","color":"#ff0000","strokeWidth":2.5,"clip":true},
 "encoding":{"x":{"field":"i","type":"quantitative","axis":null},"y":{"field":"v","type":"quantitative","axis":null},"detail":{"field":"line"}}},
{"data":{"name":"osca"},"transform":[{"filter":"datum.dir == 'up'"}],"mark":{"type":"point","shape":"M0,-1L0.75,-0.15L0.28,-0.15L0.28,1L-0.28,1L-0.28,-0.15L-0.75,-0.15Z","size":70,"filled":true,"color":"#0a7a0a","opacity":1},
 "encoding":{"x":{"field":"i","type":"quantitative","axis":null},"y":{"field":"v","type":"quantitative","axis":null}}},
{"data":{"name":"osca"},"transform":[{"filter":"datum.dir == 'dn'"}],"mark":{"type":"point","shape":"M0,-1L0.75,-0.15L0.28,-0.15L0.28,1L-0.28,1L-0.28,-0.15L-0.75,-0.15Z","size":70,"filled":true,"color":"#ff0000","opacity":1,"angle":180},
 "encoding":{"x":{"field":"i","type":"quantitative","axis":null},"y":{"field":"v","type":"quantitative","axis":null}}},
{"data":{"name":"osct"},"mark":{"type":"text","align":"left","baseline":"middle","fontSize":9,"color":"#000000"},
 "encoding":{"x":{"field":"i","type":"quantitative","axis":null},"y":{"field":"v","type":"quantitative","axis":null},"text":{"field":"t"}}},
{"data":{"name":"xlab"},"mark":{"type":"text","align":"left","baseline":"middle","fontSize":9.5,"color":"#000000"},
 "encoding":{"x":{"field":"i","type":"quantitative","axis":null},"y":{"datum":-48,"type":"quantitative","axis":null},"text":{"field":"t"}}},
{"data":{"name":"ylab"},"mark":{"type":"text","align":"left","baseline":"middle","fontSize":9.5,"color":"#000000"},
 "encoding":{"x":{"datum":199.2,"type":"quantitative","axis":null},"y":{"field":"v","type":"quantitative","axis":null},"text":{"field":"t"}}},
{"data":{"name":"ylab"},"mark":{"type":"rule","color":"#000000","strokeWidth":1},
 "encoding":{"x":{"datum":197.5,"type":"quantitative","axis":null},"x2":{"datum":198.5},"y":{"field":"v","type":"quantitative","axis":null}}}
]}
]
}
